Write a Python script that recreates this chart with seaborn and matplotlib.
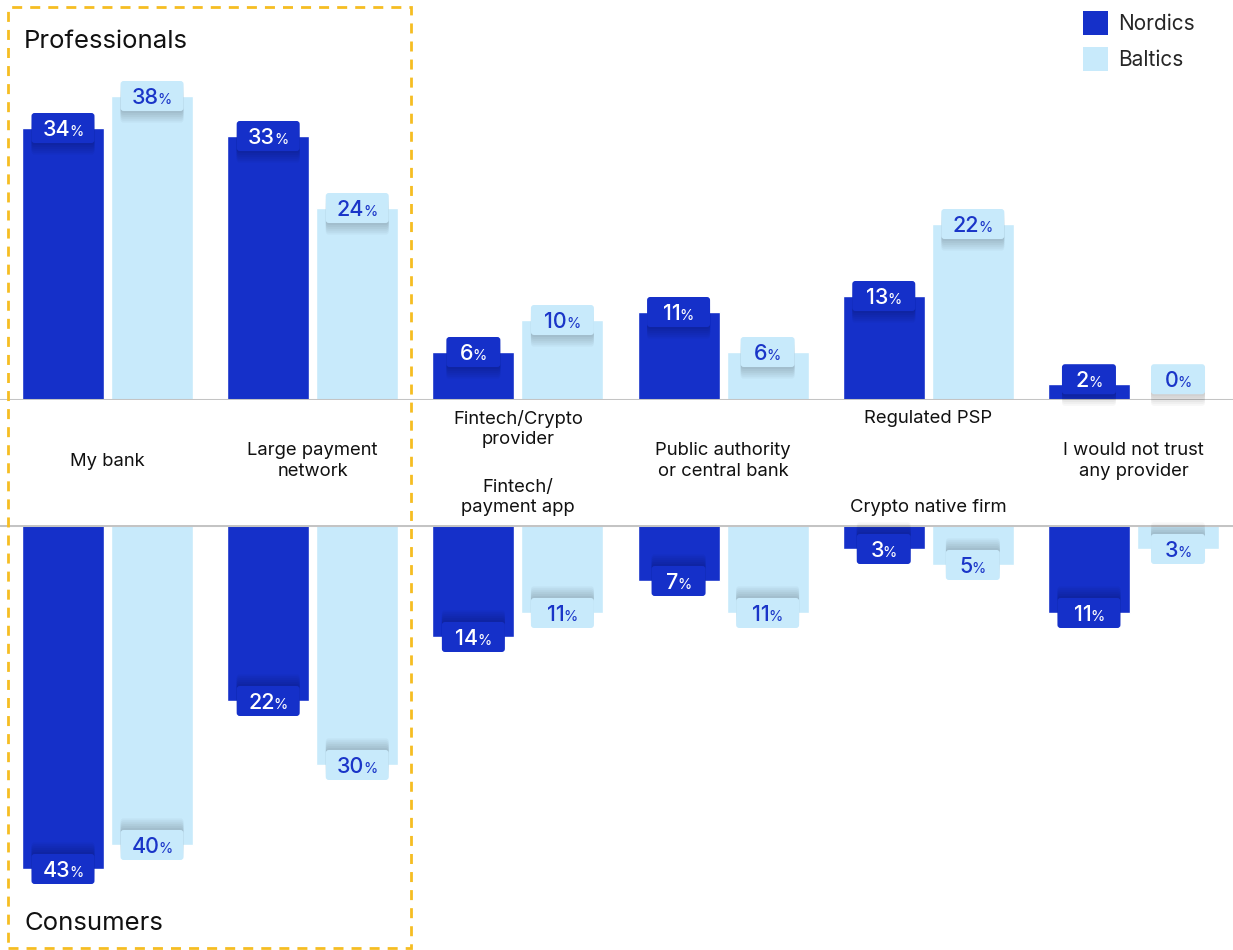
import numpy as np
import pandas as pd
import seaborn as sns
import matplotlib
matplotlib.use("Agg")
import matplotlib.pyplot as plt
from matplotlib.patches import Patch, Rectangle, FancyBboxPatch
from matplotlib.offsetbox import TextArea, HPacker, DrawingArea, AnnotationBbox
from matplotlib import patheffects as pe
from matplotlib import transforms

# ---------------- data ----------------
groups = ["g0", "g1", "g2", "g3", "g4", "g5"]
top_labels = ["My bank", "Large payment\nnetwork", "Fintech/Crypto\nprovider",
              "Public authority\nor central bank", "Regulated PSP",
              "I would not trust\nany provider"]
bottom_labels = ["My bank", "Large payment\nnetwork", "Fintech/\npayment app",
                 "Public authority\nor central bank", "Crypto native firm",
                 "I would not trust\nany provider"]
regions = ["Nordics", "Baltics"]
prof_nordics = [34, 33, 6, 11, 13, 2]
prof_baltics = [38, 24, 10, 6, 22, 0]
cons_nordics = [43, 22, 14, 7, 3, 11]
cons_baltics = [40, 30, 11, 11, 5, 3]

DARK = "#1530c9"
LIGHT = "#c8eafb"
TXT_BLUE = "#1a35c8"

sns.set_theme(style="white")
plt.rcParams["font.family"] = ["Inter", "DejaVu Sans"]

W, H = 1233, 950
fig = plt.figure(figsize=(W / 100, H / 100), dpi=100)
ax_top = fig.add_axes([0, 1 - 400 / H, 1, 400 / H])
ax_bot = fig.add_axes([0, 0, 1, 425 / H])

def long_df(nord, balt):
    return pd.DataFrame({
        "group": groups * 2,
        "region": [regions[0]] * len(groups) + [regions[1]] * len(groups),
        "value": list(nord) + list(balt),
    })

df_top = long_df(prof_nordics, prof_baltics)
df_bot = long_df(cons_nordics, cons_baltics)

for ax, df in [(ax_top, df_top), (ax_bot, df_bot)]:
    sns.barplot(data=df, x="group", y="value", hue="region", hue_order=regions,
                palette=[DARK, LIGHT], width=0.868, gap=0.078, ax=ax,
                legend=False, saturation=1, errorbar=None)
    ax.set_xlim(-0.524, 5.485)
    for s in ax.spines.values():
        s.set_visible(False)
    ax.set_xticks([])
    ax.set_yticks([])
    ax.set_xlabel("")
    ax.set_ylabel("")
    ax.axhline(0, color="#c4c4c4", lw=2.2, zorder=5)

ax_top.set_ylim(0, 50)
ax_bot.set_ylim(425 / 8, 0)

def add_label(ax, x, v, dark, sdy):
    num_col = "white" if dark else TXT_BLUE
    face = DARK if dark else LIGHT
    n = len(str(v))
    wpt = (45 + 9 * n) * 0.72
    hpt = 30 * 0.72
    y = max(v, 2.6)
    da = DrawingArea(wpt, hpt, 0, 0)
    p = FancyBboxPatch((0, 0), wpt, hpt, boxstyle="round,pad=0,rounding_size=2.2",
                       facecolor=face, edgecolor="none")
    effects = []
    for k in range(1, 7):
        effects.append(pe.SimplePatchShadow(offset=(0, sdy * k), shadow_rgbFace="black",
                                            alpha=0.03))
    effects.append(pe.Normal())
    p.set_path_effects(effects)
    da.add_artist(p)
    ab1 = AnnotationBbox(da, (x, y), xycoords="data", frameon=False, pad=0,
                         box_alignment=(0.5, 0.5))
    ab1.set_zorder(10)
    ax.add_artist(ab1)

    t_num = TextArea(f"{v}", textprops=dict(color=num_col, fontsize=15.5, fontweight="medium"))
    t_pct = TextArea("%", textprops=dict(color=num_col, fontsize=10.5))
    box = HPacker(children=[t_num, t_pct], align="baseline", pad=0, sep=-0.8)
    ab2 = AnnotationBbox(box, (x, y), xycoords="data", xybox=(0, -1.2),
                         boxcoords="offset points", frameon=False, pad=0,
                         box_alignment=(0.5, 0.5))
    ab2.set_zorder(11)
    ax.add_artist(ab2)

for ax, sdy in [(ax_top, -1.4), (ax_bot, 1.4)]:
    for ci, cont in enumerate(ax.containers):
        for bar in cont:
            xc = bar.get_x() + bar.get_width() / 2
            v = int(round(abs(bar.get_height())))
            add_label(ax, xc, v, ci == 0, sdy)

# category labels in middle band
btr = transforms.blended_transform_factory(ax_top.transData, fig.transFigure)
for i, (tl, bl) in enumerate(zip(top_labels, bottom_labels)):
    if tl == bl:
        fig.text(i, 1 - 461 / H, tl, transform=btr, ha="center", va="center",
                 fontsize=13.3, color="#111111", linespacing=1.25)
    else:
        fig.text(i, 1 - 410 / H, tl, transform=btr, ha="center", va="top",
                 fontsize=13.3, color="#111111", linespacing=1.25)
        fig.text(i, 1 - 516 / H, bl, transform=btr, ha="center", va="bottom",
                 fontsize=13.3, color="#111111", linespacing=1.25)

fig.text(24 / W, 1 - 41 / H, "Professionals", ha="left", va="center",
         fontsize=18.5, color="#111111")
fig.text(24 / W, 1 - 923 / H, "Consumers", ha="left", va="center",
         fontsize=18.5, color="#111111")

# yellow dashed frame
fig.patches.append(Rectangle((8 / W, 2 / H), (411 - 8) / W, (941) / H,
                             transform=fig.transFigure, fill=False,
                             edgecolor="#f6bd22", lw=2,
                             linestyle=(0, (3.6, 2.9)), zorder=20))

handles = [Patch(facecolor=DARK, edgecolor="none", label="Nordics"),
           Patch(facecolor=LIGHT, edgecolor="none", label="Baltics")]
fig.legend(handles=handles, loc="upper right", bbox_to_anchor=(1 - 30 / W, 1 - 3 / H),
           frameon=False, fontsize=15, handlelength=1.2, handleheight=1.4,
           handletextpad=0.5, labelspacing=0.55, borderaxespad=0)

fig.savefig("out.png", dpi=100)
